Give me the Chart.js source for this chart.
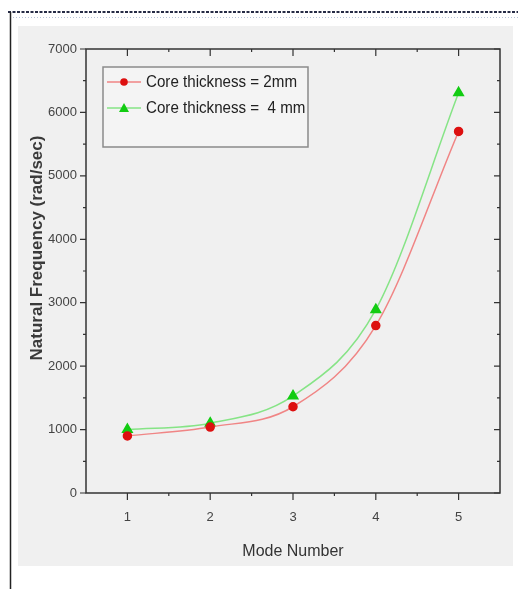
<!DOCTYPE html>
<html>
<head>
<meta charset="utf-8">
<script src="https://cdn.jsdelivr.net/npm/chart.js@4.4.1/dist/chart.umd.min.js"></script>
<style>
  html, body { margin: 0; padding: 0; background: #fff; }
  canvas { display: block; }
</style>
</head>
<body>
<canvas id="chart" width="518" height="589"></canvas>
<script>
// values
const modes = [1, 2, 3, 4, 5];
const core2mm = [900, 1040, 1360, 2640, 5700];
const core4mm = [1000, 1100, 1530, 2890, 6310];
const xTicks = [1, 2, 3, 4, 5];
const yTicks = [0, 1000, 2000, 3000, 4000, 5000, 6000, 7000];
const seriesNames = ['Core thickness = 2mm', 'Core thickness =  4 mm'];
const xTitle = 'Mode Number';
const yTitle = 'Natural Frequency (rad/sec)';

const FONT = '"Liberation Sans", Arial, sans-serif';
const ctx = document.getElementById('chart');

// page frame, gray panel, axis box with in/out ticks, y title, legend
const decorations = {
    id: 'decorations',
    beforeDraw(chart) {
        const c = chart.ctx;
        c.save();
        c.fillStyle = '#fff';
        c.fillRect(0, 0, chart.width, chart.height);
        c.fillStyle = '#f0f0f0';
        c.fillRect(18, 26, 495, 540);
        // dashed top rule
        c.strokeStyle = '#262b45';
        c.lineWidth = 2;
        c.setLineDash([3, 1.5]);
        c.beginPath(); c.moveTo(8, 12); c.lineTo(518, 12); c.stroke();
        c.strokeStyle = '#b8c4d8';
        c.lineWidth = 1;
        c.setLineDash([1, 2]);
        c.beginPath(); c.moveTo(10, 17.5); c.lineTo(518, 17.5); c.stroke();
        c.setLineDash([]);
        // left rule
        c.strokeStyle = '#222';
        c.lineWidth = 1.5;
        c.beginPath(); c.moveTo(10.5, 12); c.lineTo(10.5, 589); c.stroke();
        c.restore();
    },
    beforeDatasetsDraw(chart) {
        const c = chart.ctx;
        const a = chart.chartArea;
        const xs = chart.scales.x, ys = chart.scales.y;
        c.save();
        c.strokeStyle = '#333';
        c.lineWidth = 1.5;
        c.strokeRect(a.left, a.top, a.right - a.left, a.bottom - a.top);
        c.lineWidth = 1.2;
        c.beginPath();
        for (let v = 0; v <= 7000; v += 500) {
            const y = ys.getPixelForValue(v);
            const len = v % 1000 === 0 ? 6 : 3;
            c.moveTo(a.left - len, y); c.lineTo(a.left, y);
            c.moveTo(a.right, y); c.lineTo(a.right - len, y);
        }
        for (let v = 1; v <= 5; v += 0.5) {
            const x = xs.getPixelForValue(v);
            const len = Number.isInteger(v) ? 7 : 3;
            c.moveTo(x, a.bottom); c.lineTo(x, a.bottom + len);
            c.moveTo(x, a.top); c.lineTo(x, a.top + len);
        }
        c.stroke();
        // y title
        c.translate(37, 248);
        c.rotate(-Math.PI / 2);
        c.fillStyle = '#3a3a3a';
        c.font = 'bold 17px ' + FONT;
        c.textAlign = 'center';
        c.textBaseline = 'middle';
        c.fillText(yTitle, 0, 0);
        c.restore();
    },
    afterDatasetsDraw(chart) {
        const c = chart.ctx;
        c.save();
        c.fillStyle = '#f4f4f4';
        c.fillRect(103, 67, 205, 80);
        c.strokeStyle = '#8a8a8a';
        c.lineWidth = 1.5;
        c.strokeRect(103, 67, 205, 80);
        c.font = '17px ' + FONT;
        c.textBaseline = 'middle';
        const sx = 151 / c.measureText(seriesNames[0]).width;
        chart.data.datasets.forEach((ds, i) => {
            const y = 82 + i * 26;
            c.strokeStyle = ds.borderColor;
            c.lineWidth = 1.5;
            c.beginPath(); c.moveTo(107, y); c.lineTo(141, y); c.stroke();
            c.fillStyle = ds.pointBackgroundColor;
            c.beginPath();
            if (ds.pointStyle === 'triangle') {
                c.moveTo(124, y - 5); c.lineTo(129, y + 4); c.lineTo(119, y + 4);
            } else {
                c.arc(124, y, 3.8, 0, Math.PI * 2);
            }
            c.fill();
            c.save();
            c.translate(146, y);
            c.scale(sx, 1);
            c.fillStyle = '#222';
            c.fillText(ds.label, 0, 0);
            c.restore();
        });
        c.restore();
    }
};

new Chart(ctx, {
    type: 'line',
    data: {
        datasets: [{
            label: seriesNames[0],
            data: modes.map((m, i) => ({ x: m, y: core2mm[i] })),
            borderColor: '#f08585',
            borderWidth: 1.5,
            pointStyle: 'circle',
            pointRadius: 4,
            pointBackgroundColor: '#dd1010',
            pointBorderColor: '#dd1010',
            cubicInterpolationMode: 'monotone'
        }, {
            label: seriesNames[1],
            data: modes.map((m, i) => ({ x: m, y: core4mm[i] })),
            borderColor: '#86e486',
            borderWidth: 1.5,
            pointStyle: 'triangle',
            pointRadius: 5.5,
            pointBackgroundColor: '#12cc12',
            pointBorderColor: '#12cc12',
            cubicInterpolationMode: 'monotone'
        }]
    },
    options: {
        responsive: false,
        animation: false,
        layout: { padding: { top: 49, right: 18, left: 0, bottom: 0 } },
        plugins: {
            legend: { display: false },
            tooltip: { enabled: false }
        },
        scales: {
            x: {
                type: 'linear',
                min: 0.5,
                max: 5.5,
                afterBuildTicks: s => { s.ticks = xTicks.map(v => ({ value: v })); },
                afterFit: s => { s.height = 96; },
                grid: { display: false },
                border: { display: false },
                ticks: { color: '#444', font: { family: FONT, size: 13 }, padding: 9, callback: v => String(v) },
                title: {
                    display: true,
                    text: xTitle,
                    color: '#333',
                    font: { family: FONT, size: 16 },
                    padding: { top: 0, bottom: 28 }
                }
            },
            y: {
                min: 0,
                max: 7000,
                afterBuildTicks: s => { s.ticks = yTicks.map(v => ({ value: v })); },
                afterFit: s => { s.width = 86; },
                grid: { display: false },
                border: { display: false },
                ticks: { color: '#444', font: { family: FONT, size: 13 }, padding: 1, callback: v => String(v) }
            }
        }
    },
    plugins: [decorations]
});
</script>
</body>
</html>
